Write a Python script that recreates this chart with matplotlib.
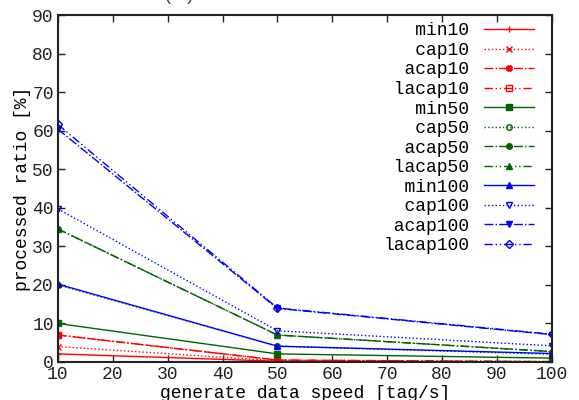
import matplotlib
matplotlib.use("Agg")
import matplotlib.pyplot as plt

plt.rcParams["font.family"] = ["Liberation Mono", "DejaVu Sans Mono"]

speed = [10, 50, 100]

min10 = [2.1, 0.2, 0.0]
cap10 = [4.0, 0.3, 0.0]
acap10 = [7.0, 0.5, 0.1]
lacap10 = [7.0, 0.5, 0.1]
min50 = [10.0, 2.1, 1.0]
cap50 = [20.0, 4.1, 2.0]
acap50 = [34.5, 7.0, 2.7]
lacap50 = [34.5, 7.0, 2.7]
min100 = [20.2, 4.1, 2.2]
cap100 = [39.7, 8.1, 4.2]
acap100 = [60.4, 13.9, 7.1]
lacap100 = [61.6, 14.0, 7.2]

labels = ["min10", "cap10", "acap10", "lacap10",
          "min50", "cap50", "acap50", "lacap50",
          "min100", "cap100", "acap100", "lacap100"]
series = [min10, cap10, acap10, lacap10,
          min50, cap50, acap50, lacap50,
          min100, cap100, acap100, lacap100]

red = "#ff0000"
green = "#006400"
blue = "#0000ff"
colors = [red] * 4 + [green] * 4 + [blue] * 4
dashdotdot = (0, (6, 2, 1, 2, 1, 2))
styles = ["-", ":", "-.", dashdotdot] * 3
markers = ["+", "x", "X", "s", "s", "o", "o", "^", "^", "v", "v", "D"]
filled = [True, True, True, False, True, False, True, True,
          True, False, True, False]

fig = plt.figure(figsize=(5.79, 4.0), dpi=100)
ax = fig.add_axes([0.1, 0.095, 0.853, 0.8675])

for lab, ys, c, ls, m, f in zip(labels, series, colors, styles, markers, filled):
    ax.plot(speed, ys, color=c, linestyle=ls, linewidth=1.0,
            marker=m, markersize=4, markeredgewidth=1.0,
            markerfacecolor=c if f else "none", markeredgecolor=c,
            label=lab.rjust(8))

ax.set_xlim(10, 100)
ax.set_ylim(0, 90)
ax.set_xticks(range(10, 101, 10))
ax.set_yticks(range(0, 91, 10))
ax.tick_params(direction="in", length=5, width=1, top=True, right=True,
               labelsize=13, pad=3, colors="#222222")
for s in ax.spines.values():
    s.set_linewidth(1.5)
    s.set_color("#222222")

ax.set_xlabel("generate data speed [tag/s]", fontsize=13, labelpad=1)
ax.set_ylabel("processed ratio [%]", fontsize=13, labelpad=1)

leg = ax.legend(loc="upper right", frameon=False, markerfirst=False,
                fontsize=13, handlelength=2.8, labelspacing=0.14,
                handletextpad=0.8, borderaxespad=0.3,
                bbox_to_anchor=(0.99, 1.015))

fig.text(0.31, 1.01, "(a)", fontsize=13, ha="center", va="center",
         color="#444444")

fig.savefig("out.png", dpi=100)
